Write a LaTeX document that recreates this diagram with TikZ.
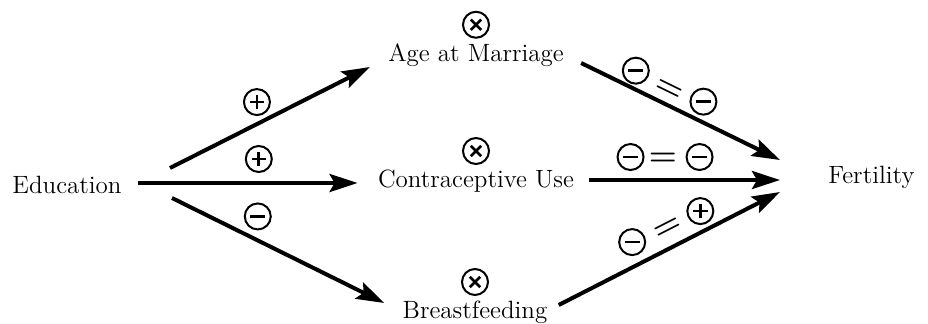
\documentclass[tikz,border=0pt]{standalone}
\usetikzlibrary{arrows.meta,positioning}
\tikzset{
  lbl/.style={font=\fontsize{12.5}{15}\selectfont,inner sep=2pt},
  arr/.style={line width=2pt,-{Stealth[length=14pt,width=9pt,inset=2.5pt]}},
  sgn/.style={circle,draw,line width=1pt,minimum size=13pt,inner sep=0pt},
  sgnplus/.style={sgn,path picture={
      \draw[-,line width=1.4pt] (path picture bounding box.center) +(-3.6pt,0) -- +(3.6pt,0)
        (path picture bounding box.center) +(0,-3.6pt) -- +(0,3.6pt);}},
  sgnminus/.style={sgn,path picture={
      \draw[-,line width=1.4pt] (path picture bounding box.center) +(-3.8pt,0) -- +(3.8pt,0);}},
  sgntimes/.style={sgn,path picture={
      \draw[-,line width=1.4pt] (path picture bounding box.center) +(-2.6pt,-2.6pt) -- +(2.6pt,2.6pt)
        (path picture bounding box.center) +(-2.6pt,2.6pt) -- +(2.6pt,-2.6pt);}},
  eqsgn/.style={font=\fontsize{16}{16}\selectfont\bfseries,inner sep=0pt}
}
\begin{document}
\begin{tikzpicture}[x=0.5pt,y=-0.5pt]
    \useasboundingbox (0,0) rectangle (928,323);
    \node[lbl,anchor=base east] (edu) at (126,193) {Education};
    \node[lbl,anchor=base] (age) at (476,61) {Age at Marriage};
    \node[lbl,anchor=base] (con) at (476,187) {Contraceptive Use};
    \node[lbl,anchor=base] (brf) at (475,318) {Breastfeeding};
    \node[lbl,anchor=base west] (fert) at (824,183) {Fertility};
    \node[sgntimes,above=0pt of age] (xage) {};
    \node[sgntimes,above=0pt of con] (xcon) {};
    \node[sgntimes,above=0pt of brf] (xbrf) {};

    \path[arr]
    ([shift={(44,-25)}]edu.base east) edge node[sgnplus,pos=0.435,above=4pt] (pA) {} ([shift={(-14,6)}]age.base west)
    ([shift={(12,-10)}]edu.base east) edge node[sgnplus,pos=0.55,above=5pt] (pC) {} ([shift={(-16,-4)}]con.base west)
    ([shift={(46,5)}]edu.base east) edge node[sgnminus,pos=0.404,above=5pt] (pB) {} ([shift={(-14,-15)}]brf.base west);
    \path[arr]
    ([shift={(13,2)}]age.base east) edge
      node[sgnminus,pos=0.275,above=2.5pt] (aA) {}
      node[eqsgn,pos=0.41,sloped,above=3pt] (eA) {=}
      node[sgnminus,pos=0.615,above=3.5pt] (bA) {}
      ([shift={(-44,-23)}]fert.base west)
    ([shift={(11,-7)}]con.base east) edge
      node[sgnminus,pos=0.216,above=4.5pt] (aC) {}
      node[eqsgn,pos=0.385,above=6.5pt] (eC) {=}
      node[sgnminus,pos=0.578,above=4.5pt] (bC) {}
      ([shift={(-44,-3)}]fert.base west)
    ([shift={(7,-13)}]brf.base east) edge
      node[sgnminus,pos=0.332,above=5.7pt] (aB) {}
      node[eqsgn,pos=0.53,sloped,above=5pt] (eB) {=}
      node[sgnplus,pos=0.64,above=3.8pt] (bB) {}
      ([shift={(-44,9)}]fert.base west);
  \end{tikzpicture}
\end{document}
